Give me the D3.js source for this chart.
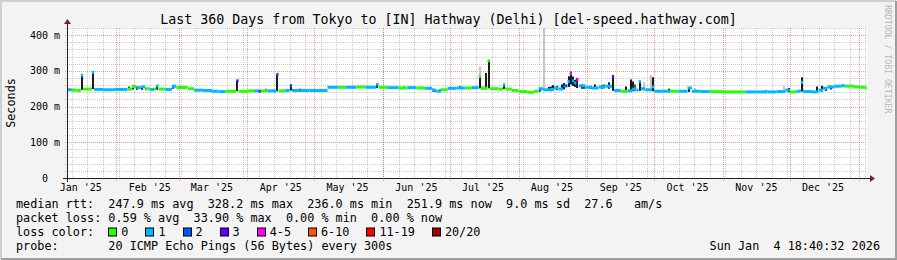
<!DOCTYPE html>
<meta charset="utf-8">
<style>
body { margin: 0; background: #f3f3f3; }
svg { display: block; }
svg text { font-family: "DejaVu Sans Mono", monospace; fill: #000; white-space: pre; }
</style>
<svg width="897" height="260"></svg>
<script src="https://d3js.org/d3.v7.min.js"></script>
<script>
// median rtt, one step per entry (ms), loss index per step
const medDates = ["2025-01-10","2025-01-12","2025-01-14","2025-01-16","2025-01-17","2025-01-20","2025-01-21","2025-01-22","2025-01-26","2025-01-31",
  "2025-02-04","2025-02-06","2025-02-08","2025-02-10","2025-02-12","2025-02-14","2025-02-16","2025-02-18","2025-02-19","2025-02-20",
  "2025-02-23","2025-02-26","2025-02-28","2025-03-02","2025-03-05","2025-03-08","2025-03-12","2025-03-16","2025-03-19","2025-03-22",
  "2025-03-27","2025-03-28","2025-04-01","2025-04-04","2025-04-06","2025-04-07","2025-04-10","2025-04-14","2025-04-15","2025-04-18",
  "2025-04-20","2025-04-21","2025-04-25","2025-04-29","2025-05-07","2025-05-12","2025-05-15","2025-05-20","2025-05-24","2025-05-29",
  "2025-05-30","2025-06-03","2025-06-08","2025-06-12","2025-06-16","2025-06-20","2025-06-23","2025-06-25","2025-06-27","2025-06-30",
  "2025-07-04","2025-07-08","2025-07-11","2025-07-14","2025-07-15","2025-07-18","2025-07-19","2025-07-23","2025-07-25","2025-07-26",
  "2025-07-29","2025-08-01","2025-08-05","2025-08-08","2025-08-10","2025-08-12","2025-08-15","2025-08-17","2025-08-19","2025-08-21",
  "2025-08-23","2025-08-24","2025-08-25","2025-08-26","2025-08-27","2025-08-28","2025-08-31","2025-09-03","2025-09-06","2025-09-09",
  "2025-09-12","2025-09-13","2025-09-16","2025-09-19","2025-09-21","2025-09-23","2025-09-24","2025-09-25","2025-09-27","2025-09-30",
  "2025-10-01","2025-10-05","2025-10-08","2025-10-12","2025-10-16","2025-10-18","2025-10-22","2025-10-26","2025-11-01","2025-11-06",
  "2025-11-11","2025-11-16","2025-11-21","2025-11-25","2025-11-29","2025-12-01","2025-12-04","2025-12-06","2025-12-07","2025-12-11",
  "2025-12-14","2025-12-16","2025-12-18","2025-12-21","2025-12-24","2025-12-26","2025-12-30","2026-01-02","2026-01-04"];
const medMs = [247,246,245,288,249,249,296,248,247,248,
  248,249,256,253,255,250,248,249,258,249,
  248,257,253,254,250,246,245,243,242,243,
  272,243,244,244,243,244,244,290,244,245,
  259,245,245,245,254,254,254,255,254,262,
  254,253,252,253,252,251,246,243,247,251,
  252,252,253,284,251,328,250,249,261,249,
  245,242,240,243,250,247,248,252,249,258,
  270,292,272,266,276,258,254,252,255,257,
  284,245,243,244,249,246,270,250,247,255,
  243,243,243,243,252,243,242,242,241,241,
  241,241,241,242,246,241,243,268,242,241,
  246,251,255,257,258,257,255,254,252];
const medLoss = [1,0,0,1,0,0,1,1,1,1,
  1,0,0,1,1,0,1,0,1,0,
  1,1,0,0,0,1,1,1,1,0,
  3,0,0,1,3,0,1,2,0,1,
  2,1,1,1,1,0,1,0,1,1,
  0,1,0,1,0,1,1,1,0,1,
  1,0,1,0,0,0,0,0,1,0,
  0,0,0,0,1,1,1,1,1,2,
  1,4,1,1,4,1,1,1,1,1,
  3,1,0,1,1,1,1,1,1,1,
  1,1,0,1,1,1,1,0,0,0,
  1,1,1,1,1,0,1,1,1,1,
  1,1,1,1,1,0,0,0,0];

// smoke (spread of the pings) around the median
const smokeDates = ["2025-01-16","2025-01-21","2025-02-06","2025-02-08","2025-02-10","2025-02-12","2025-02-14","2025-02-19","2025-02-26","2025-03-01",
  "2025-03-03","2025-03-27","2025-04-09","2025-04-14","2025-04-20","2025-04-24","2025-05-18","2025-05-29","2025-06-10","2025-06-23",
  "2025-06-24","2025-06-26","2025-07-05","2025-07-14","2025-07-14","2025-07-17","2025-07-18","2025-07-25","2025-08-10","2025-08-12",
  "2025-08-14","2025-08-15","2025-08-16","2025-08-18","2025-08-20","2025-08-21","2025-08-23","2025-08-24","2025-08-25","2025-08-26",
  "2025-08-27","2025-08-29","2025-08-30","2025-09-02","2025-09-04","2025-09-07","2025-09-08","2025-09-10","2025-09-12","2025-09-18",
  "2025-09-20","2025-09-21","2025-09-22","2025-09-24","2025-09-26","2025-09-29","2025-09-30","2025-10-07","2025-10-16","2025-10-19",
  "2025-11-20","2025-11-28","2025-11-30","2025-12-06","2025-12-13","2025-12-15","2025-12-17","2025-12-19"];
const smokeLo = [247,249,247,248,247,247,246,247,250,250,
  249,243,242,243,245,243,252,252,250,242,
  241,242,250,251,251,251,251,249,242,245,
  244,243,245,246,247,248,255,262,258,255,
  252,250,250,250,250,250,251,250,244,242,
  243,243,243,244,244,243,243,241,241,241,
  239,240,240,242,240,242,244,248];
const smokeHi = [288,296,256,258,256,256,252,258,258,257,
  256,272,250,291,260,250,258,263,256,250,
  249,248,257,312,284,294,330,262,252,440,
  255,256,260,258,262,266,285,298,284,275,
  280,262,258,258,262,260,262,268,288,256,
  276,270,262,272,268,288,282,250,253,252,
  246,258,252,282,256,258,254,258];
const smokeShade = [0,0,0,0,0,0,0,0,0,0,
  0,0,1,0,0,0,0,0,0,0,
  0,0,0,2,0,0,0,0,0,2,
  0,0,0,0,0,0,0,0,0,0,
  0,0,0,0,0,0,1,0,0,0,
  0,0,1,0,2,2,0,0,0,2,
  1,2,0,0,0,0,0,0];
const shadeColors = ["#1c1c1c", "#5a5a5a", "#c4c4c4"];

const lossLabels = ["0", "1", "2", "3", "4-5", "6-10", "11-19", "20/20"];
const lossColors = ["#26ff00", "#00b8ff", "#0059ff", "#5e00ff", "#ff00ff", "#ff5500", "#ff0000", "#a00000"];

const yTicks = [0, 100, 200, 300, 400];
const yTickLabels = ["0  ", "100 m", "200 m", "300 m", "400 m"];

const legendRows = [
  "median rtt:  247.9 ms avg  328.2 ms max  236.0 ms min  251.9 ms now  9.0 ms sd  27.6   am/s",
  "packet loss: 0.59 % avg  33.90 % max  0.00 % min  0.00 % now",
  "loss color:",
  "probe:       20 ICMP Echo Pings (56 Bytes) every 300s"
];

var parse = d3.timeParse("%Y-%m-%d");
var tStart = new Date(2025, 0, 9, 18, 40, 32),
    tEnd = new Date(2026, 0, 4, 18, 40, 32);

var svg = d3.select("svg"),
    W = 897, H = 260,
    x0 = 67, y0 = 178, xsize = 800, ysize = 150;

var x = d3.scaleTime().domain([tStart, tEnd]).range([x0, x0 + xsize]);
var y = d3.scaleLinear().domain([0, 420]).range([y0, y0 - ysize]);

// frame
svg.append("rect").attr("width", W).attr("height", H).attr("fill", "#f3f3f3");
svg.append("path").attr("d", "M1,259V1H896").attr("fill", "none").attr("stroke", "#cfcfcf").attr("stroke-width", 2);
svg.append("path").attr("d", "M1,259H896V1").attr("fill", "none").attr("stroke", "#9e9e9e").attr("stroke-width", 2);

// canvas
svg.append("rect").attr("x", x0).attr("y", y0 - ysize).attr("width", xsize).attr("height", ysize).attr("fill", "#fff");

var grid = svg.append("g");
var gridCol = "rgba(140,140,140,0.45)", mgridCol = "rgba(200,30,30,0.45)";

// minor horizontal
d3.range(0, 421, 20).filter(function(v) { return v % 100; }).forEach(function(v) {
  var yy = Math.round(y(v)) + 0.5;
  grid.append("line").attr("x1", x0 - 2).attr("x2", x0 + xsize).attr("y1", yy).attr("y2", yy)
    .attr("stroke", gridCol).attr("stroke-dasharray", "1,1");
});
// minor vertical, weekly
d3.timeSunday.range(tStart, tEnd).forEach(function(d) {
  var xx = Math.round(x(d)) + 0.5;
  grid.append("line").attr("x1", xx).attr("x2", xx).attr("y1", y0 - ysize).attr("y2", y0 + 2)
    .attr("stroke", gridCol).attr("stroke-dasharray", "1,1");
});
// major
yTicks.forEach(function(v) {
  var yy = Math.round(y(v)) + 0.5;
  grid.append("line").attr("x1", x0 - 2).attr("x2", x0 + xsize).attr("y1", yy).attr("y2", yy)
    .attr("stroke", mgridCol).attr("stroke-dasharray", "1,1");
});
d3.timeMonth.range(tStart, tEnd).forEach(function(d) {
  var xx = Math.round(x(d)) + 0.5;
  grid.append("line").attr("x1", xx).attr("x2", xx).attr("y1", y0 - ysize).attr("y2", y0 + 3)
    .attr("stroke", mgridCol).attr("stroke-dasharray", "1,1");
});

// smoke
svg.append("clipPath").attr("id", "clip").append("rect")
  .attr("x", x0).attr("y", y0 - ysize).attr("width", xsize).attr("height", ysize);
var plot = svg.append("g").attr("clip-path", "url(#clip)");

smokeDates.forEach(function(s, i) {
  var d = d3.timeHour.offset(parse(s), 12);
  plot.append("rect")
    .attr("x", Math.round(x(d)) - 1).attr("width", 2)
    .attr("y", y(smokeHi[i])).attr("height", y(smokeLo[i]) - y(smokeHi[i]))
    .attr("fill", shadeColors[smokeShade[i]]);
});

// median
medDates.forEach(function(s, i) {
  var xa = x(parse(s)),
      xb = i < medDates.length - 1 ? x(parse(medDates[i + 1])) : x0 + xsize - 2;
  plot.append("rect")
    .attr("x", xa).attr("width", Math.max(1.5, xb - xa))
    .attr("y", y(medMs[i]) - 1.5).attr("height", 3)
    .attr("fill", lossColors[medLoss[i]]);
});

// axes
var ax = svg.append("g");
ax.append("line").attr("x1", x0 - 4).attr("x2", x0 + xsize + 4).attr("y1", y0 + 0.5).attr("y2", y0 + 0.5).attr("stroke", "#1f1f1f");
ax.append("line").attr("x1", x0 + 0.5).attr("x2", x0 + 0.5).attr("y1", y0 + 4).attr("y2", y0 - ysize - 4).attr("stroke", "#1f1f1f");
ax.append("path").attr("fill", "#7f1f1f")
  .attr("d", "M" + (x0 + xsize + 3) + "," + (y0 - 3) + "L" + (x0 + xsize + 3) + "," + (y0 + 4) + "L" + (x0 + xsize + 8) + "," + (y0 + 0.5) + "Z");
ax.append("path").attr("fill", "#7f1f1f")
  .attr("d", "M" + (x0 - 3) + "," + (y0 - ysize - 4) + "L" + (x0 + 4) + "," + (y0 - ysize - 4) + "L" + (x0 + 0.5) + "," + (y0 - ysize - 9) + "Z");

// y labels
yTicks.forEach(function(v, i) {
  ax.append("text").attr("x", 60).attr("y", y(v) + 3.5).attr("text-anchor", "end")
    .style("font-size", "10px").text(yTickLabels[i]);
});

// x labels, centred half a month after the month start
var fmt = d3.timeFormat("%b '%y");
d3.timeMonth.range(d3.timeMonth.floor(tStart), tEnd).forEach(function(d) {
  var c = d3.timeDay.offset(d, 15);
  if (c < tStart || c > tEnd) return;
  ax.append("text").attr("x", x(c)).attr("y", 190.5).attr("text-anchor", "middle")
    .style("font-size", "10px").text(fmt(d));
});

// titles
svg.append("text").attr("x", W / 2).attr("y", 24).attr("text-anchor", "middle")
  .style("font-size", "13.3px").text("Last 360 Days from Tokyo to [IN] Hathway (Delhi) [del-speed.hathway.com]");
svg.append("text").attr("transform", "translate(15,103) rotate(-90)").attr("text-anchor", "middle")
  .style("font-size", "11.8px").text("Seconds");
svg.append("text").attr("transform", "translate(884.5,5) rotate(90)")
  .style("font-size", "8.2px").style("fill", "#b8b8b8").text("RRDTOOL / TOBI OETIKER");

// legend
var charW = 7.1, lx = 16, rowY = [207.5, 221.5, 235.5, 249.5];
legendRows.forEach(function(t, i) {
  svg.append("text").attr("x", lx).attr("y", rowY[i]).style("font-size", "11.8px").text(t);
});
var cx = lx + 13 * charW;
lossLabels.forEach(function(l, i) {
  svg.append("rect").attr("x", Math.round(cx) + 0.5).attr("y", rowY[2] - 7.5).attr("width", 8).attr("height", 8)
    .attr("fill", lossColors[i]).attr("stroke", "#000");
  svg.append("text").attr("x", cx + 13).attr("y", rowY[2]).style("font-size", "11.8px").text(l);
  cx += 13 + l.length * charW + 17;
});
svg.append("text").attr("x", 880).attr("y", rowY[3]).attr("text-anchor", "end")
  .style("font-size", "11.8px").text("Sun Jan  4 18:40:32 2026");
</script>
